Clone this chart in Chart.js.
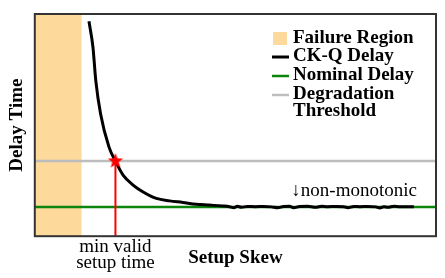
<!DOCTYPE html>
<html>
<head>
<meta charset="utf-8">
<script src="https://cdn.jsdelivr.net/npm/chart.js@4"></script>
<style>
  body { margin: 0; background: #fff; }
  canvas { display: block; }
</style>
</head>
<body>
<canvas id="delay" width="445" height="278"></canvas>
<script>
// CK-Q delay curve (x = setup skew, y = delay, both on 0..100 scale)
const curveX = [13.5, 14.5, 15.2, 16.4, 18.5, 20.1, 22.0, 24.5, 26.9, 30.3, 33.6, 36.9, 40.2, 43.5, 46.8,
  48.5, 49.6, 50.5, 51.5, 53, 55, 57, 59, 60.5, 62, 63.5, 64.5, 66, 68, 70, 71.5, 73, 75, 77, 78,
  79.5, 81, 83, 85, 86, 87, 88, 89.5, 91, 93, 94.5];
const curveY = [96.7, 85.0, 70.0, 55.0, 40.1, 33.8, 27.5, 23.0, 20.0, 17.0, 15.9, 15.2, 14.4, 14.0, 13.6,
  13.3, 12.8, 13.5, 13.0, 13.4, 13.3, 13.4, 13.2, 12.8, 13.4, 13.5, 12.8, 13.4, 13.5, 13.0, 13.5, 13.3, 13.4, 13.3, 12.8,
  13.4, 13.3, 13.4, 13.2, 12.7, 13.3, 13.0, 13.5, 13.3, 13.3, 13.3];

const failureEnd = 11.7;
const nominalDelay = 13.1;
const degradationThreshold = 33.8;
const minValidSetup = 20.1;
const notePos = [64.2, 20.3];

const labelFailure = "Failure Region";
const labelCurve = "CK-Q Delay";
const labelNominal = "Nominal Delay";
const labelThreshold = ["Degradation", "Threshold"];
const minValidText = ["min valid", "setup time"];
const noteText = "\u2193non-monotonic";

const failureColor = "#fdd99b";
const nominalColor = "#0b850b";
const thresholdColor = "#bdbdbd";

Chart.defaults.font.family = "'Liberation Serif', 'DejaVu Serif', serif";
Chart.defaults.color = "#000";

function makeStar(r) {
  const c = document.createElement("canvas");
  c.width = c.height = r * 2 + 2;
  const g = c.getContext("2d");
  g.fillStyle = "#ff0000";
  g.beginPath();
  for (let i = 0; i < 10; i++) {
    const rad = i % 2 === 0 ? r : r * 0.42;
    const a = -Math.PI / 2 + (i * Math.PI) / 5;
    g.lineTo(r + 1 + rad * Math.cos(a), r + 1 + rad * Math.sin(a));
  }
  g.closePath();
  g.fill();
  return c;
}

const frame = {
  id: "frame",
  afterDatasetsDraw(chart) {
    const { ctx, chartArea: a } = chart;
    ctx.save();
    ctx.strokeStyle = "#333";
    ctx.lineWidth = 2;
    ctx.strokeRect(a.left, a.top, a.right - a.left, a.bottom - a.top);
    ctx.restore();
  },
};

const notes = {
  id: "notes",
  afterDraw(chart) {
    const { ctx, scales } = chart;
    const x = scales.x, y = scales.y;
    ctx.save();
    ctx.fillStyle = "#000";
    ctx.textBaseline = "middle";

    // min valid setup time under the red line
    ctx.font = "19px 'Liberation Serif', serif";
    ctx.textAlign = "center";
    const mx = x.getPixelForValue(minValidSetup);
    ctx.fillText(minValidText[0], mx, 247);
    ctx.fillText(minValidText[1], mx, 263);

    // non-monotonic note
    ctx.textAlign = "left";
    ctx.fillText(noteText, x.getPixelForValue(notePos[0]) - 1, y.getPixelForValue(notePos[1]));

    // legend
    const lx = 272, sw = 17, tx = 293;
    ctx.font = "bold 19px 'Liberation Serif', serif";
    ctx.fillStyle = failureColor;
    ctx.fillRect(lx + 1, 32, 14, 13);
    ctx.fillStyle = "#000";
    ctx.fillText(labelFailure, tx, 38.5);

    const line = (yy, color, w) => {
      ctx.strokeStyle = color;
      ctx.lineWidth = w;
      ctx.beginPath();
      ctx.moveTo(lx, yy);
      ctx.lineTo(lx + sw, yy);
      ctx.stroke();
    };
    line(57, "#000", 3);
    ctx.fillText(labelCurve, tx, 56.5);
    line(76, nominalColor, 2.5);
    ctx.fillText(labelNominal, tx, 75.5);
    line(95, thresholdColor, 2.5);
    ctx.fillText(labelThreshold[0], tx, 94.5);
    ctx.fillText(labelThreshold[1], tx, 111.5);
    ctx.restore();
  },
};

const ctx = document.getElementById("delay").getContext("2d");
const delayChart = new Chart(ctx, {
  type: "line",
  data: {
    datasets: [
      {
        label: "star",
        data: [{ x: minValidSetup, y: degradationThreshold }],
        showLine: false,
        pointStyle: makeStar(8),
        pointRadius: 8,
        order: 0,
      },
      {
        label: "min valid",
        data: [{ x: minValidSetup, y: 0 }, { x: minValidSetup, y: degradationThreshold }],
        borderColor: "#ff0000",
        borderWidth: 2,
        pointRadius: 0,
        order: 1,
      },
      {
        label: labelCurve,
        data: curveX.map((v, i) => ({ x: v, y: curveY[i] })),
        borderColor: "#000",
        borderWidth: 3,
        pointRadius: 0,
        cubicInterpolationMode: "monotone",
        order: 2,
      },
      {
        label: labelNominal,
        data: [{ x: 0, y: nominalDelay }, { x: 100, y: nominalDelay }],
        borderColor: nominalColor,
        borderWidth: 2.5,
        pointRadius: 0,
        order: 3,
      },
      {
        label: labelThreshold.join(" "),
        data: [{ x: 0, y: degradationThreshold }, { x: 100, y: degradationThreshold }],
        borderColor: thresholdColor,
        borderWidth: 2.5,
        pointRadius: 0,
        order: 4,
      },
      {
        label: labelFailure,
        data: [{ x: 0, y: 100 }, { x: failureEnd, y: 100 }],
        borderWidth: 0,
        backgroundColor: failureColor,
        fill: "origin",
        pointRadius: 0,
        order: 5,
      },
    ],
  },
  options: {
    responsive: false,
    animation: false,
    layout: { padding: { left: 6, right: 8, top: 14, bottom: 9 } },
    plugins: { legend: { display: false }, tooltip: { enabled: false } },
    scales: {
      x: {
        type: "linear",
        min: 0,
        max: 100,
        ticks: { display: false },
        grid: { display: false, drawTicks: false },
        border: { display: false },
        title: {
          display: true,
          text: "Setup Skew",
          font: { size: 19, weight: "bold" },
          padding: { top: 10, bottom: 0 },
        },
      },
      y: {
        min: 0,
        max: 100,
        ticks: { display: false },
        grid: { display: false, drawTicks: false },
        border: { display: false },
        title: {
          display: true,
          text: "Delay Time",
          font: { size: 19, weight: "bold" },
          padding: { top: 0, bottom: 6 },
        },
      },
    },
  },
  plugins: [frame, notes],
});
</script>
</body>
</html>
